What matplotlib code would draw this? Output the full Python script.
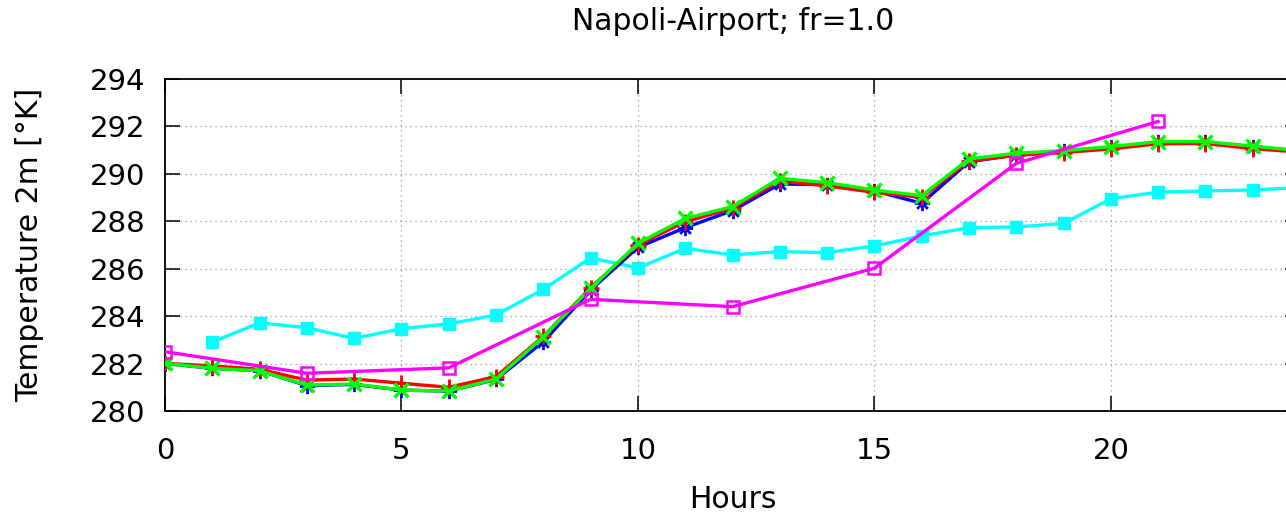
import matplotlib
matplotlib.use("Agg")
import matplotlib.pyplot as plt
from matplotlib.path import Path

plt.rcParams['font.family'] = ['DejaVu Sans']

hours = list(range(0, 25))
hours_cyan = list(range(1, 25))
hours_mag = [0, 3, 6, 9, 12, 15, 18, 21]

blue = [282.00, 281.80, 281.70, 281.07, 281.12, 280.88, 280.84, 281.33, 282.92, 285.10,
        286.90, 287.73, 288.45, 289.57, 289.55, 289.28, 288.76, 290.51, 290.80, 290.95,
        291.12, 291.33, 291.33, 291.15, 290.95]
red = [282.01, 281.90, 281.76, 281.30, 281.35, 281.17, 281.00, 281.45, 283.15, 285.20,
       287.00, 287.98, 288.55, 289.70, 289.49, 289.22, 289.01, 290.54, 290.78, 290.90,
       291.05, 291.27, 291.28, 291.06, 290.92]
green = [282.01, 281.80, 281.70, 281.09, 281.14, 280.88, 280.84, 281.35, 283.13, 285.17,
         287.07, 288.12, 288.62, 289.81, 289.63, 289.32, 289.08, 290.63, 290.87, 290.98,
         291.15, 291.36, 291.36, 291.17, 290.98]
cyan = [282.91, 283.72, 283.51, 283.06, 283.47, 283.67, 284.05, 285.13, 286.46, 286.03,
        286.86, 286.58, 286.72, 286.68, 286.96, 287.38, 287.73, 287.76, 287.91, 288.95,
        289.23, 289.28, 289.32, 289.42]
magenta = [282.50, 281.59, 281.82, 284.71, 284.40, 286.02, 290.44, 292.21]

title = "Napoli-Airport; fr=1.0"
xlabel = "Hours"
ylabel = "Temperature 2m [°K]"
xticks = [0, 5, 10, 15, 20]
yticks = [280, 282, 284, 286, 288, 290, 292, 294]

# gnuplot-style star: plus + cross
star_verts = [(-1, 0), (1, 0), (0, -1), (0, 1), (-0.7, -0.7), (0.7, 0.7), (-0.7, 0.7), (0.7, -0.7)]
star_codes = [Path.MOVETO, Path.LINETO] * 4
star = Path(star_verts, star_codes)

fig = plt.figure(figsize=(12.86, 5.17), dpi=100)
W, H = 1286, 517
left, right, top, bottom = 165, 1300, 79, 411
ax = fig.add_axes([left / W, 1 - bottom / H, (right - left) / W, (bottom - top) / H])

lw = 2.4
ax.plot(hours_cyan, cyan, color='#00ffff', lw=lw, marker='s', ms=8, mec='#00ffff', mfc='#00ffff', zorder=3)
ax.plot(hours, blue, color='#0000ff', lw=lw, marker=star, ms=11, mew=2.0, mec='#0000ff', zorder=4)
ax.plot(hours, red, color='#ff0000', lw=lw, marker='+', ms=12, mew=2.0, mec='#ff0000', zorder=5)
ax.plot(hours, green, color='#00ff00', lw=lw, marker='x', ms=10, mew=2.4, mec='#00ff00', zorder=6)
ax.plot(hours_mag, magenta, color='#ff00ff', lw=lw, marker='s', ms=8, mew=1.8, mec='#ff00ff', mfc='none', zorder=7)

ax.set_xlim(0, 24)
ax.set_ylim(280, 294)
ax.set_xticks(xticks)
ax.set_yticks(yticks)
ax.grid(True, linestyle=(0, (1, 3)), color='#999999', lw=0.9)
ax.set_axisbelow(True)
ax.tick_params(direction='in', length=11, width=1.1, top=True, right=True, labelsize=21, colors='black')
ax.tick_params(axis='x', pad=19)
ax.tick_params(axis='y', pad=14)
for s in ax.spines.values():
    s.set_linewidth(1.3)
    s.set_color('black')

fig.text(733 / W, 1 - 22 / H, title, ha='center', va='center', fontsize=21.5)
fig.text(733 / W, 1 - 500 / H, xlabel, ha='center', va='center', fontsize=21.5)
fig.text(30 / W, 1 - 245 / H, ylabel, ha='center', va='center', rotation=90, fontsize=21.5)

fig.savefig("out.png", dpi=100)
